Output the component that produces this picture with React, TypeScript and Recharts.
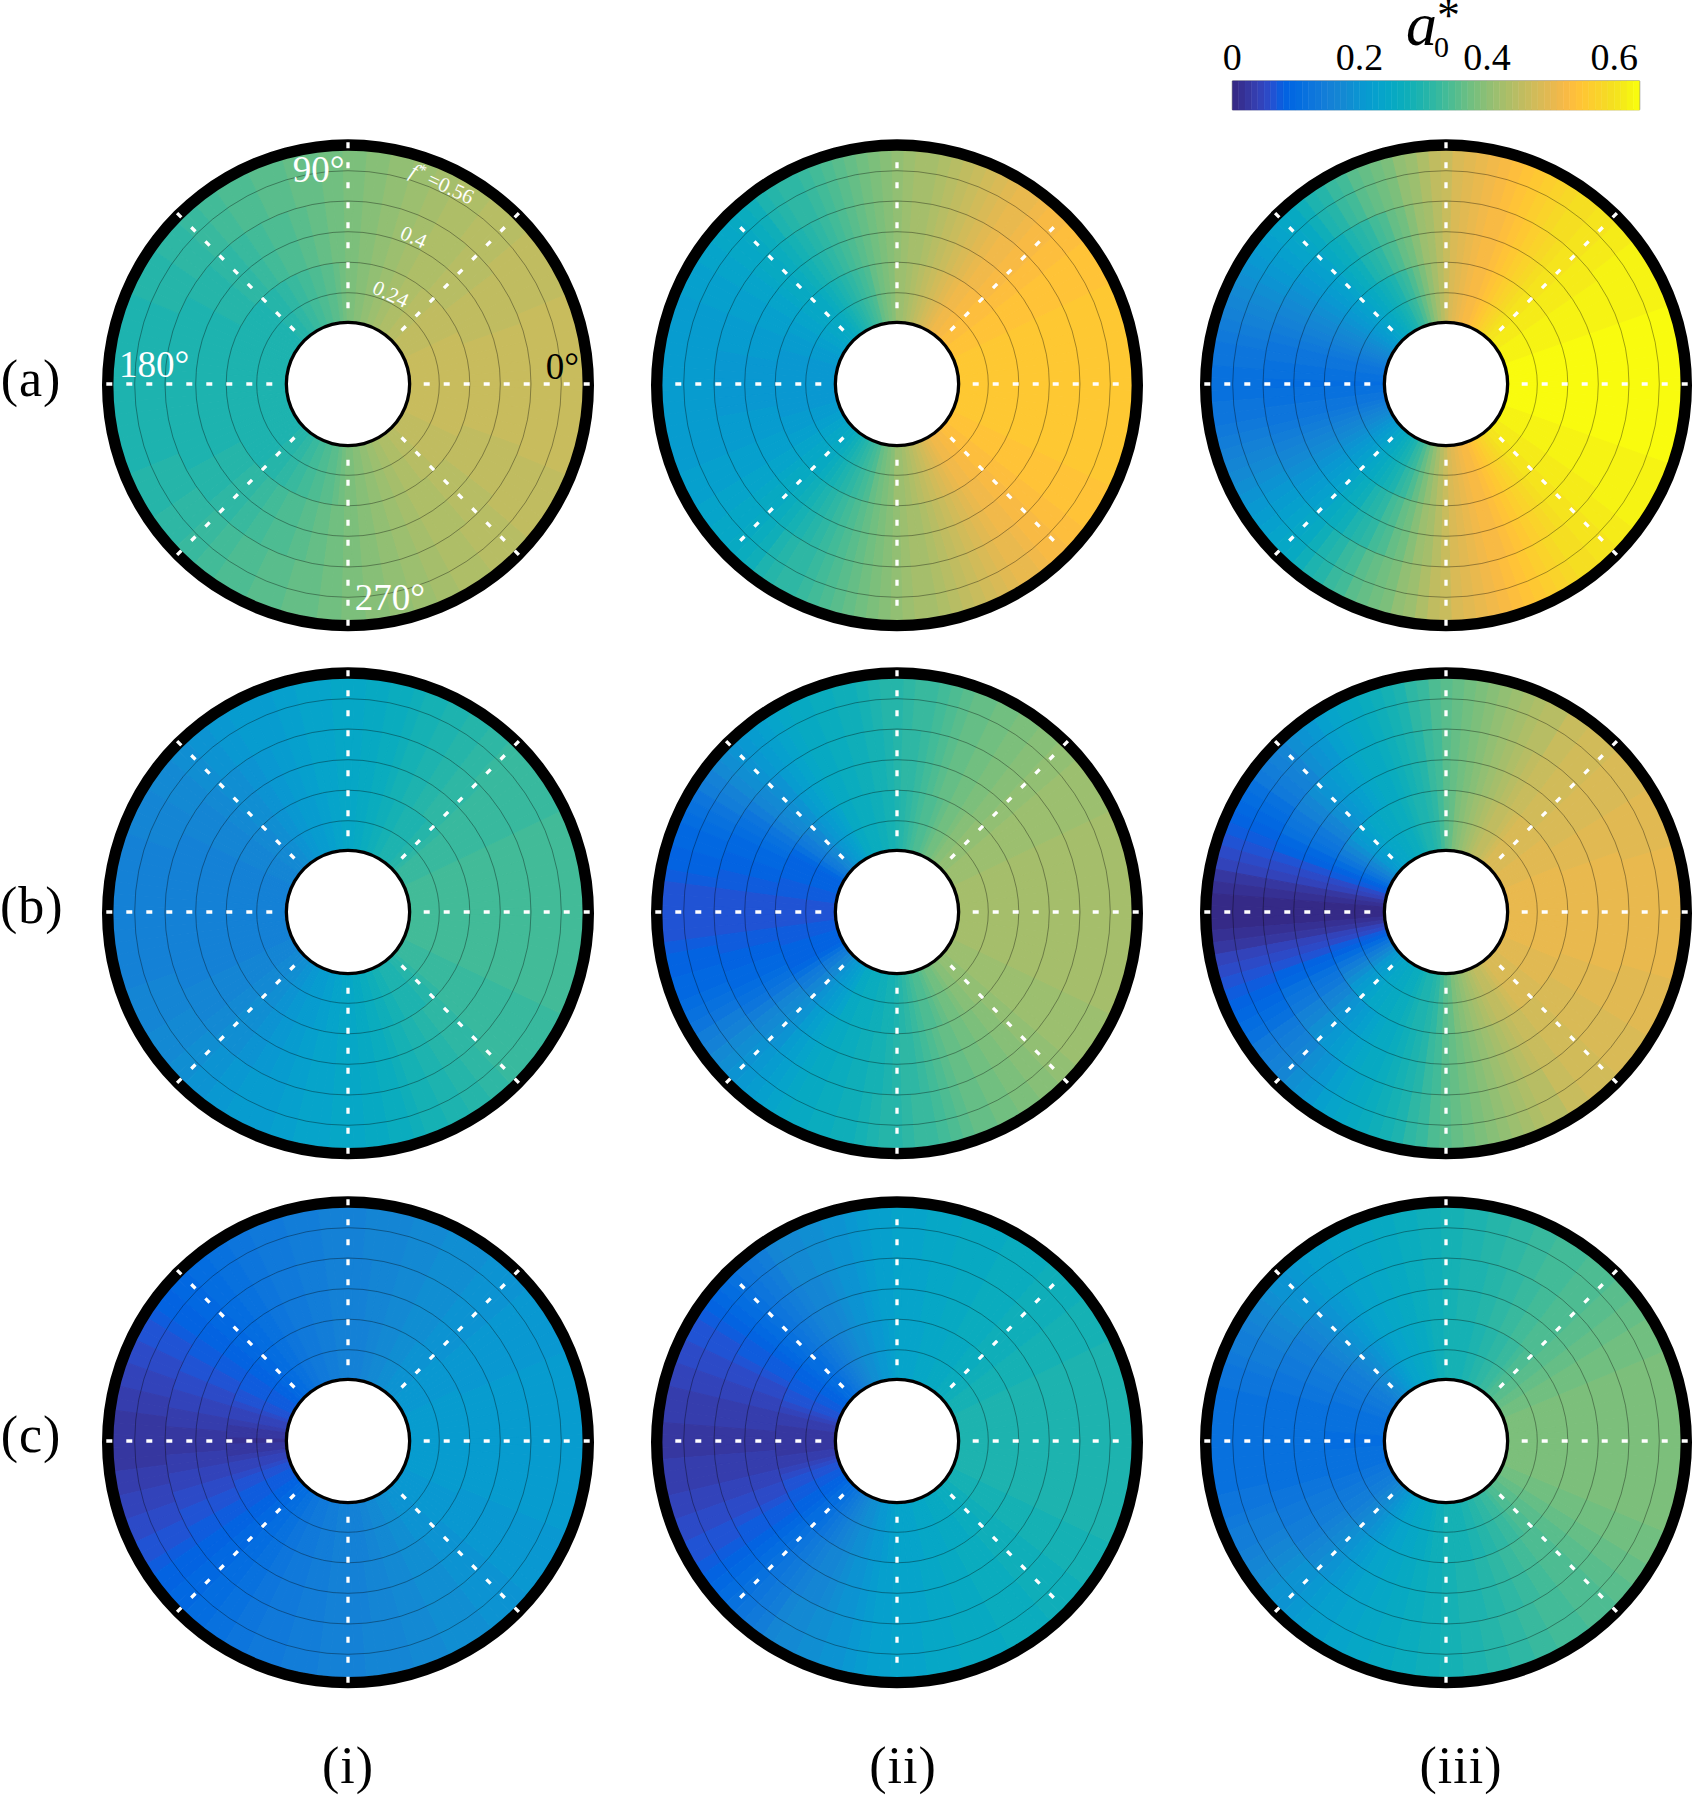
import { Bar, BarChart, Cell, Pie, PieChart, PolarGrid, ReferenceArea, XAxis, YAxis } from "recharts";

// a0* in hundredths (one colour bar level) at theta = 0, 3, ... 180 deg,
// one list per f* ring. The lower half of each disc mirrors the upper half.
const ai024 = [47,47,47,47,47,47,47,47,47,46, 46,46,46,46,46,45,45,45,44,44, 44,43,43,42,42,41,41,40,40,39, 39,38,37,36,36,35,35,34,34,33, 33,32,32,31,31,31,30,30,30,30, 30,30,30,30,30,30,30,30,30,30, 30];
const ai040 = [47,47,47,47,47,47,47,46,46,46, 46,46,46,45,45,45,45,44,44,44, 44,43,43,42,42,41,41,40,40,39, 39,38,38,37,37,36,36,35,35,35, 34,34,33,33,32,32,32,31,31,31, 31,30,30,30,30,30,30,30,30,30, 30];
const ai056 = [47,47,47,47,47,47,47,47,46,46, 46,46,46,46,45,45,45,45,44,44, 44,43,43,42,42,41,41,40,40,39, 39,38,38,37,37,37,36,36,36,35, 35,35,34,34,33,33,32,32,32,31, 31,31,31,30,30,30,30,30,30,30, 30];

const aii024 = [56,56,56,56,56,56,56,56,56,55, 55,55,55,54,54,54,53,53,52,52, 51,50,49,48,47,46,45,44,43,42, 42,40,39,38,37,35,34,33,32,31, 30,29,28,27,26,26,25,25,24,24, 23,23,22,22,22,21,21,21,21,21, 21];
const aii040 = [56,56,56,56,56,56,56,56,56,55, 55,55,55,54,54,53,53,52,52,51, 50,49,48,47,46,45,44,43,43,42, 41,40,39,38,37,36,35,34,33,32, 31,30,29,28,27,26,26,25,24,24, 23,23,23,22,22,22,22,21,21,21, 21];
const aii056 = [56,56,56,56,56,56,56,56,56,55, 55,55,55,54,54,53,53,52,51,51, 50,49,48,47,46,45,44,43,43,42, 41,40,39,38,37,36,35,34,33,32, 32,31,30,28,27,26,25,25,24,24, 23,23,23,22,22,22,22,22,22,22, 22];

const aiii024 = [64,64,64,64,64,64,64,63,63,63, 63,63,62,62,62,61,61,60,59,58, 57,56,55,54,53,53,52,51,50,49, 47,45,43,41,39,37,35,33,32,30, 29,28,27,26,25,24,23,22,21,20, 19,18,17,16,15,14,13,13,12,12, 11];
const aiii040 = [64,64,64,64,64,64,64,63,63,63, 63,63,62,62,62,61,61,60,59,58, 57,56,55,54,53,53,52,51,50,49, 47,45,43,42,40,38,37,35,34,32, 31,30,28,27,26,24,23,22,21,20, 19,18,17,16,15,14,13,13,12,12, 11];
const aiii056 = [64,64,64,64,64,64,64,63,63,63, 63,63,63,62,62,61,61,60,60,59, 58,57,56,55,54,53,52,51,50,49, 47,46,44,42,41,39,38,37,36,34, 33,31,30,28,26,25,24,23,22,21, 20,19,18,17,16,15,14,13,13,12, 12];

const bi024 = [34,34,34,34,34,34,34,34,34,33, 33,33,33,33,32,31,31,30,30,30, 30,29,29,28,28,27,27,26,26,25, 25,25,24,24,23,23,22,22,22,21, 21,20,20,19,19,18,18,18,17,17, 17,17,16,16,16,16,16,16,16,16, 16];
const bi040 = [34,34,34,34,34,34,34,34,34,33, 33,33,33,33,33,32,32,32,31,31, 30,30,29,29,28,27,27,26,26,25, 25,25,24,24,24,23,23,22,22,21, 21,20,20,19,19,19,18,18,17,17, 17,17,16,16,16,16,16,16,16,16, 16];
const bi056 = [34,34,34,34,34,34,34,34,34,33, 33,33,33,33,33,33,32,32,31,31, 30,30,29,29,28,27,27,26,26,25, 25,25,24,24,24,23,23,22,22,22, 22,21,21,20,20,19,19,18,18,18, 17,17,17,17,16,16,16,16,16,16, 16];

const bii024 = [43,43,43,43,43,43,43,43,43,42, 42,42,42,42,41,41,41,40,40,39, 38,38,37,36,35,35,34,33,32,31, 30,29,29,28,28,27,27,27,26,26, 24,23,22,21,20,18,17,15,14,12, 10,9,9,9,9,8,8,8,7,7, 7];
const bii040 = [43,43,43,43,43,43,43,43,43,42, 42,42,42,42,41,41,40,40,39,39, 38,38,37,37,36,35,34,33,32,32, 31,30,29,29,28,28,27,27,26,26, 25,24,23,22,20,19,18,17,15,13, 12,11,10,10,9,9,8,8,7,7, 7];
const bii056 = [43,43,43,43,43,43,43,43,43,42, 42,42,42,42,41,41,40,40,39,39, 38,38,37,37,36,35,34,33,33,32, 31,31,30,29,28,28,27,27,26,26, 25,24,23,22,21,20,19,18,16,15, 13,12,11,10,10,9,9,8,7,7, 7];

const biii024 = [51,51,51,51,51,51,51,51,50,50, 50,50,50,49,49,49,49,49,48,47, 46,46,45,44,43,42,41,40,39,37, 36,34,32,31,30,30,29,28,27,27, 26,26,25,25,24,23,22,21,19,17, 15,13,11,9,8,6,5,3,2,1, 1];
const biii040 = [51,51,51,51,51,51,51,50,50,50, 50,49,49,49,49,48,48,48,47,47, 46,45,44,43,42,41,40,39,38,37, 36,34,33,31,30,29,28,27,26,26, 25,24,23,22,21,20,19,17,16,14, 13,12,10,9,7,6,5,3,2,1, 1];
const biii056 = [51,51,51,51,51,51,50,50,50,50, 50,49,49,49,49,48,48,48,47,47, 45,45,44,43,42,41,40,39,38,37, 36,35,33,32,30,29,28,27,26,25, 24,23,21,20,19,17,16,15,14,12, 11,10,9,8,7,6,5,3,2,1, 1];

const ci024 = [22,22,22,22,22,22,22,22,22,21, 21,21,21,21,21,20,20,20,20,19, 19,19,18,18,18,17,17,16,16,16, 16,16,16,15,15,15,14,14,14,13, 13,12,12,11,11,10,10,9,9,8, 8,8,7,7,6,5,5,4,3,3, 2];
const ci040 = [22,22,22,22,22,22,22,22,21,21, 21,21,21,21,20,20,20,20,19,19, 19,19,18,18,18,17,17,17,16,16, 16,16,16,15,15,15,14,14,14,13, 13,12,12,11,11,10,10,9,9,8, 8,7,7,6,6,5,5,4,4,3, 3];
const ci056 = [22,22,22,22,22,22,22,22,21,21, 21,21,21,21,20,20,20,20,19,19, 19,19,18,18,18,17,17,17,17,16, 16,16,16,15,15,15,14,14,14,13, 13,12,12,11,11,10,10,9,9,8, 7,7,6,6,5,5,4,4,3,3, 3];

const cii024 = [30,30,30,30,30,30,30,30,30,29, 29,29,29,28,28,27,27,27,26,26, 26,26,25,25,25,25,24,24,24,24, 24,23,22,21,21,20,19,19,18,17, 16,15,14,13,12,11,11,10,9,9, 8,8,7,7,6,5,4,4,3,3, 3];
const cii040 = [30,30,30,30,30,30,30,30,30,29, 29,29,29,28,28,28,28,27,27,27, 27,26,26,26,25,25,25,24,24,24, 24,23,23,22,21,20,20,19,18,17, 17,16,15,14,13,12,11,10,9,8, 8,7,6,6,5,5,4,4,4,3, 3];
const cii056 = [30,30,30,30,30,30,30,30,30,29, 29,29,29,28,28,28,28,27,27,27, 27,26,26,26,26,25,25,25,24,24, 24,23,23,22,21,20,20,19,19,18, 18,17,15,14,13,12,11,10,9,8, 7,7,6,6,5,5,4,4,4,3, 3];

const ciii024 = [39,39,39,39,39,39,39,39,38,38, 38,37,37,36,36,35,35,34,33,33, 32,32,31,31,30,30,29,29,29,29, 29,28,28,27,26,26,25,25,24,24, 23,22,21,20,19,18,17,16,15,15, 14,14,13,13,12,12,12,12,12,11, 11];
const ciii040 = [39,39,39,39,39,39,39,39,38,38, 38,37,37,36,36,35,35,35,34,34, 33,33,32,32,31,31,30,30,30,29, 29,28,28,27,27,26,26,25,25,24, 24,23,22,21,20,19,18,17,16,15, 15,14,14,13,13,12,12,12,12,12, 12];
const ciii056 = [39,39,39,39,39,39,39,39,38,38, 38,37,37,36,36,35,35,35,34,34, 34,33,33,32,32,31,31,30,30,29, 29,28,28,27,27,26,26,25,25,24, 24,23,23,22,21,20,20,19,18,17, 16,15,15,14,13,13,12,12,12,12, 12];

// parula, 64 levels
const parula = [
  "rgb(53,42,135)", "rgb(54,48,147)", "rgb(54,55,160)", "rgb(53,61,173)", "rgb(50,67,186)", "rgb(44,74,199)", "rgb(32,83,212)", "rgb(15,92,221)",
  "rgb(3,99,225)", "rgb(2,104,225)", "rgb(4,109,224)", "rgb(8,113,222)", "rgb(13,117,220)", "rgb(16,121,218)", "rgb(18,125,216)", "rgb(20,129,214)",
  "rgb(20,133,212)", "rgb(19,137,211)", "rgb(16,142,210)", "rgb(12,147,210)", "rgb(9,152,209)", "rgb(7,156,207)", "rgb(6,160,205)", "rgb(6,164,202)",
  "rgb(6,167,198)", "rgb(7,169,194)", "rgb(10,172,190)", "rgb(15,174,185)", "rgb(21,177,180)", "rgb(29,179,175)", "rgb(37,181,169)", "rgb(46,183,164)",
  "rgb(56,185,158)", "rgb(66,187,152)", "rgb(77,188,146)", "rgb(89,189,140)", "rgb(101,190,134)", "rgb(113,191,128)", "rgb(124,191,123)", "rgb(135,191,119)",
  "rgb(146,191,115)", "rgb(156,191,111)", "rgb(165,190,107)", "rgb(174,190,103)", "rgb(183,189,100)", "rgb(192,188,96)", "rgb(200,188,93)", "rgb(209,187,89)",
  "rgb(217,186,86)", "rgb(225,185,82)", "rgb(233,185,78)", "rgb(241,185,74)", "rgb(248,186,68)", "rgb(253,190,61)", "rgb(255,195,55)", "rgb(254,200,50)",
  "rgb(252,206,46)", "rgb(250,211,42)", "rgb(247,216,38)", "rgb(245,222,33)", "rgb(245,228,29)", "rgb(245,235,24)", "rgb(246,243,19)", "rgb(249,251,14)",
];
const colorbarMax = 0.64;
const colorbarTicks = [0, 0.2, 0.4, 0.6];
const colorbarMinorTicks = [0.08, 0.16, 0.24, 0.32, 0.4, 0.48, 0.56];

const gridRadii = [91.3, 121.8, 152.3, 183, 213.3];
const spokeAngles = [0, 45, 90, 135, 180, 225, 270, 315];
const ringEdges = [63, 121.8, 183, 236];
const serif = "'Liberation Serif', serif";

const columnX = [348.3, 897.4, 1446.4];
const rowY = [384, 912.3, 1440.8];
const rowLabels = ["(a)", "(b)", "(c)"];
const rowLabelY = [379, 906, 1435];
const columnLabels = ["(i)", "(ii)", "(iii)"];
const columnLabelX = [348, 903, 1461];

const panels = [
  [[ai024, ai040, ai056], [aii024, aii040, aii056], [aiii024, aiii040, aiii056]],
  [[bi024, bi040, bi056], [bii024, bii040, bii056], [biii024, biii040, biii056]],
  [[ci024, ci040, ci056], [cii024, cii040, cii056], [ciii024, ciii040, ciii056]],
];

function mirrored(values: number[]) {
  return [...values, ...values.slice(1, -1).reverse()].map((v) => ({ level: v, span: 1 }));
}

const fullRing = [{ span: 1 }];

function Degree({ x, y, text, fill = "#fff" }: { x: number; y: number; text: string; fill?: string }) {
  return (
    <text x={x} y={y} fontFamily={serif} fontSize={37} fill={fill}>
      {text}
    </text>
  );
}

function FirstPanelLabels() {
  return (
    <g>
      <Degree x={194.7} y={48} text="90°" />
      <Degree x={21} y={243} text="180°" />
      <Degree x={447.7} y={245} text="0°" fill="#000" />
      <Degree x={256.7} y={476} text="270°" />
      <g fontFamily={serif} fontSize={21} fill="#fff" textAnchor="middle" dominantBaseline="central">
        <text transform="translate(292.7 160) rotate(25)">0.24</text>
        <text transform="translate(315.7 103) rotate(24)">0.4</text>
        <text transform="translate(344 50) rotate(25)">
          <tspan fontStyle="italic">f</tspan>
          <tspan dy={-5} fontSize={16}>*</tspan>
          <tspan dy={5}> =0.56</tspan>
        </text>
      </g>
    </g>
  );
}

function PolarPanel({ rings }: { rings: number[][] }) {
  return (
    <PieChart width={500} height={500} margin={{ top: 0, right: 0, bottom: 0, left: 0 }}>
      {rings.map((values, r) => (
        <Pie
          key={r}
          data={mirrored(values)}
          dataKey="span"
          cx={250}
          cy={250}
          startAngle={-1.5}
          endAngle={358.5}
          innerRadius={ringEdges[r]}
          outerRadius={ringEdges[r + 1]}
          isAnimationActive={false}
          legendType="none"
        >
          {mirrored(values).map((d, i) => {
            const color = parula[Math.max(0, d.level - 1)];
            return <Cell key={i} fill={color} stroke={color} strokeWidth={1} />;
          })}
        </Pie>
      ))}
      <Pie data={fullRing} dataKey="span" cx={250} cy={251.3} innerRadius={234.6} outerRadius={246} fill="#000" stroke="none" isAnimationActive={false} legendType="none" />
      <Pie data={fullRing} dataKey="span" cx={250} cy={250} innerRadius={60} outerRadius={63.3} fill="#000" stroke="none" isAnimationActive={false} legendType="none" />
    </PieChart>
  );
}

// Separate chart on top of the discs: grid and labels would otherwise sit under the pies.
function PolarOverlay({ endTicks, labels }: { endTicks: boolean; labels: boolean }) {
  return (
    <PieChart
      width={500}
      height={500}
      margin={{ top: 0, right: 0, bottom: 0, left: 0 }}
      innerRadius={75.7}
      outerRadius={endTicks ? 242 : 223}
    >
      <PolarGrid gridType="circle" radialLines={false} polarAngles={[]} polarRadius={gridRadii} stroke="#000" strokeOpacity={0.5} strokeWidth={0.7} fill="none" />
      <PolarGrid gridType="circle" polarAngles={spokeAngles} polarRadius={[]} stroke="#fff" strokeWidth={3.3} strokeDasharray="6 14" fill="none" />
      {labels && <FirstPanelLabels />}
    </PieChart>
  );
}

const colorbarKeys = parula.map((_, i) => `l${i}`);
const colorbarData = [Object.fromEntries([["name", "a0"], ...colorbarKeys.map((k) => [k, colorbarMax / parula.length])])];

function Colorbar() {
  return (
    <BarChart
      width={470}
      height={125}
      layout="vertical"
      data={colorbarData}
      barCategoryGap={0}
      margin={{ top: 80, right: 30.3, bottom: 15.3, left: 32.3 }}
    >
      <XAxis
        xAxisId="major"
        type="number"
        orientation="top"
        domain={[0, colorbarMax]}
        ticks={colorbarTicks}
        height={1}
        axisLine={false}
        tickLine={false}
        tickSize={0}
        tickMargin={11}
        interval={0}
        allowDataOverflow
        tickFormatter={(v: number) => (v === 0 ? "0" : v.toFixed(1))}
        tick={{ fontFamily: serif, fontSize: 38, fill: "#000" }}
      />
      <XAxis
        xAxisId="minor"
        type="number"
        orientation="bottom"
        domain={[0, colorbarMax]}
        ticks={colorbarMinorTicks}
        height={1}
        axisLine={false}
        mirror
        tick={false}
        tickSize={4}
        interval={0}
        allowDataOverflow
        tickLine={{ stroke: "#333", strokeWidth: 1 }}
      />
      <YAxis type="category" dataKey="name" hide />
      {colorbarKeys.map((k, i) => (
        <Bar key={k} xAxisId="major" dataKey={k} stackId="scale" fill={parula[i]} stroke={parula[i]} strokeWidth={0.5} isAnimationActive={false} />
      ))}
      <ReferenceArea xAxisId="major" x1={0} x2={colorbarMax} fill="none" stroke="#6b6b6b" strokeWidth={1} ifOverflow="visible" />
      <text fontFamily={serif} fill="#000">
        <tspan x={206} y={45} fontSize={62} fontStyle="italic">a</tspan>
        <tspan x={234} y={57} fontSize={30}>0</tspan>
        <tspan x={237} y={31} fontSize={46}>*</tspan>
      </text>
    </BarChart>
  );
}

export default function App() {
  return (
    <div style={{ position: "absolute", left: 0, top: 0, width: 1693, height: 1797, background: "#fff", overflow: "hidden" }}>
      {panels.map((row, r) =>
        row.map((rings, c) => (
          <div key={`${r}-${c}`}>
            <div style={{ position: "absolute", left: columnX[c] - 250, top: rowY[r] - 250 }}>
              <PolarPanel rings={rings} />
            </div>
            <div style={{ position: "absolute", left: columnX[c] - 250, top: rowY[r] - 250 }}>
              <PolarOverlay endTicks={!((r === 0 && c === 1) || (r === 2 && c === 1))} labels={r === 0 && c === 0} />
            </div>
          </div>
        )),
      )}
      <div style={{ position: "absolute", left: 1200, top: 0 }}>
        <Colorbar />
      </div>
      {rowLabels.map((t, r) => (
        <div key={t} style={{ position: "absolute", left: 0, width: 62, top: rowLabelY[r] - 30, height: 60, lineHeight: "60px", textAlign: "center", fontFamily: serif, fontSize: 52, letterSpacing: 1 }}>
          {t}
        </div>
      ))}
      {columnLabels.map((t, c) => (
        <div key={t} style={{ position: "absolute", left: columnLabelX[c] - 60, width: 120, top: 1736, height: 60, lineHeight: "60px", textAlign: "center", fontFamily: serif, fontSize: 52, letterSpacing: 1 }}>
          {t}
        </div>
      ))}
    </div>
  );
}
